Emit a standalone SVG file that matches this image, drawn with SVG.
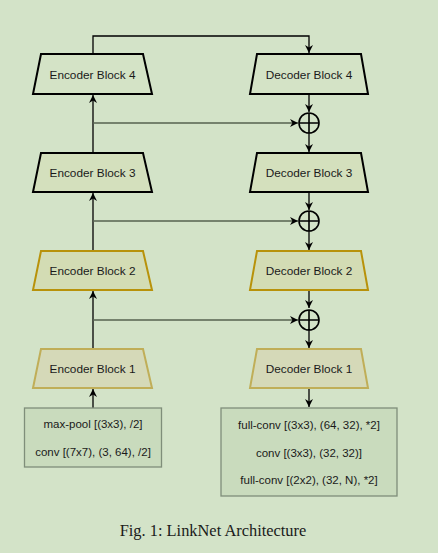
<svg xmlns="http://www.w3.org/2000/svg" width="438" height="553" viewBox="0 0 438 553">
<defs>
<marker id="ah" viewBox="0 0 10 10" refX="10" refY="5" markerWidth="8" markerHeight="8" orient="auto" markerUnits="userSpaceOnUse">
<path d="M0,0 L10,5 L0,10 L3,5 Z" fill="#000"/>
</marker>
<marker id="ahg" viewBox="0 0 10 10" refX="10" refY="5" markerWidth="8" markerHeight="8" orient="auto" markerUnits="userSpaceOnUse">
<path d="M0,0 L10,5 L0,10 L3,5 Z" fill="#000"/>
</marker>
</defs>
<style>
.t{font-family:"Liberation Sans",Arial,sans-serif;font-size:11.8px;fill:#1a1a1a;text-anchor:middle;dominant-baseline:central}
.s{font-size:11.5px}
.blk{stroke-width:2;stroke-linejoin:miter}
.k{stroke:#000}
.g1{stroke:#b8920a}
.g2{stroke:#c0ae58}
.box{fill:#c9dbbd;stroke:#7f8e7a;stroke-width:1.3}
.v{stroke:#000;stroke-width:1.3;fill:none}
.h{stroke:#56624f;stroke-width:1.6;fill:none}
.sum{fill:none;stroke:#000;stroke-width:1.6}
</style>
<rect width="438" height="553" fill="#d3e3c8"/>

<g id="connectors">
<path class="v" d="M93,54 V36 H309 V53" marker-end="url(#ah)"/>
<path class="v" d="M309,94 V112" marker-end="url(#ah)"/>
<path class="v" d="M309,133 V152" marker-end="url(#ah)"/>
<path class="v" d="M309,192 V210" marker-end="url(#ah)"/>
<path class="v" d="M309,231 V250" marker-end="url(#ah)"/>
<path class="v" d="M309,290 V308" marker-end="url(#ah)"/>
<path class="v" d="M309,329 V348" marker-end="url(#ah)"/>
<path class="v" d="M309,388 V407" marker-end="url(#ah)"/>
<path class="v" d="M93,153 V95" marker-end="url(#ah)"/>
<path class="v" d="M93,251 V193" marker-end="url(#ah)"/>
<path class="v" d="M93,349 V291" marker-end="url(#ah)"/>
<path class="v" d="M93,408 V389" marker-end="url(#ah)"/>
<path class="h" d="M93,123 H298" marker-end="url(#ahg)"/>
<path class="h" d="M93,221 H298" marker-end="url(#ahg)"/>
<path class="h" d="M93,320 H298" marker-end="url(#ahg)"/>
</g>

<g id="sum1"><circle class="sum" cx="309" cy="123" r="10"/><path class="sum" d="M299,123 H319 M309,113 V133"/></g>
<g id="sum2"><circle class="sum" cx="309" cy="221" r="10"/><path class="sum" d="M299,221 H319 M309,211 V231"/></g>
<g id="sum3"><circle class="sum" cx="309" cy="320" r="10"/><path class="sum" d="M299,320 H319 M309,310 V330"/></g>

<g id="enc4"><polygon class="blk k" fill="#d4e3c6" points="41,54 143,54 152,94 33,94"/><text class="t" x="92.5" y="74.5">Encoder Block 4</text></g>
<g id="enc3"><polygon class="blk k" fill="#d4e0bd" points="41,153 143,153 152,192 33,192"/><text class="t" x="92.5" y="173">Encoder Block 3</text></g>
<g id="enc2"><polygon class="blk g1" fill="#d3dcb4" points="41,251 143,251 152,290 33,290"/><text class="t" x="92.5" y="270.5">Encoder Block 2</text></g>
<g id="enc1"><polygon class="blk g2" fill="#d5d9b8" points="41,349 143,349 152,388 33,388"/><text class="t" x="92.5" y="368.5">Encoder Block 1</text></g>

<g id="dec4"><polygon class="blk k" fill="#d4e3c6" points="257,54 361,54 368,94 250,94"/><text class="t" x="309" y="74.5">Decoder Block 4</text></g>
<g id="dec3"><polygon class="blk k" fill="#d4e0bd" points="257,153 361,153 368,192 250,192"/><text class="t" x="309" y="173">Decoder Block 3</text></g>
<g id="dec2"><polygon class="blk g1" fill="#d3dcb4" points="257,251 361,251 368,290 250,290"/><text class="t" x="309" y="270.5">Decoder Block 2</text></g>
<g id="dec1"><polygon class="blk g2" fill="#d5d9b8" points="257,349 361,349 368,388 250,388"/><text class="t" x="309" y="368.5">Decoder Block 1</text></g>

<g id="encbox"><rect class="box" x="24.5" y="408" width="137" height="59"/>
<text class="t s" x="93" y="424">max-pool [(3x3), /2]</text>
<text class="t s" x="93" y="452">conv [(7x7), (3, 64), /2]</text></g>

<g id="decbox"><rect class="box" x="221" y="408" width="176" height="88"/>
<text class="t s" x="309" y="425">full-conv [(3x3), (64, 32), *2]</text>
<text class="t s" x="309" y="452.5">conv [(3x3), (32, 32)]</text>
<text class="t s" x="309" y="480">full-conv [(2x2), (32, N), *2]</text></g>

<text x="213" y="530" font-family="'Liberation Serif','Times New Roman',serif" font-size="16.4" fill="#1a1a1a" text-anchor="middle" dominant-baseline="central">Fig. 1: LinkNet Architecture</text>
</svg>
